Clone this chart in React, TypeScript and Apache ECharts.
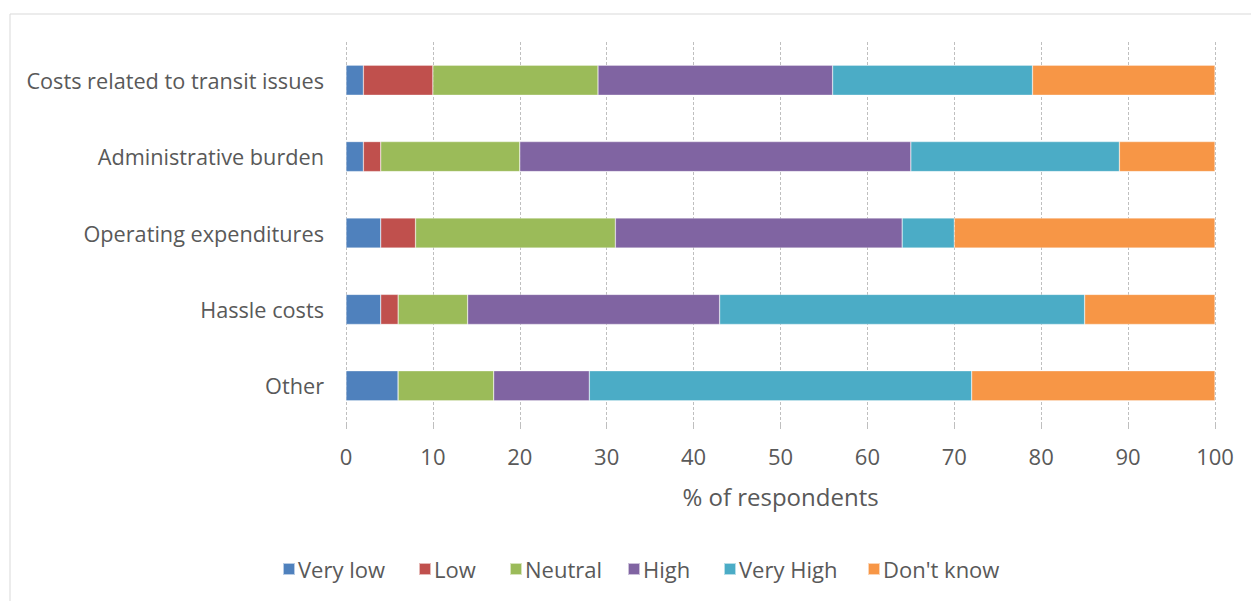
import React, { useEffect, useRef } from "react";
import * as echarts from "echarts";

const categories = [
  "Costs related to transit issues",
  "Administrative burden",
  "Operating expenditures",
  "Hassle costs",
  "Other",
];
const seriesNames = ["Very low", "Low", "Neutral", "High", "Very High", "Don't know"];
const veryLow = [2, 2, 4, 4, 6];
const low = [8, 2, 4, 2, 0];
const neutral = [19, 16, 23, 8, 11];
const high = [27, 45, 33, 29, 11];
const veryHigh = [23, 24, 6, 42, 44];
const dontKnow = [21, 11, 30, 15, 28];
const colors = ["#4F81BD", "#C0504D", "#9BBB59", "#8064A2", "#4BACC6", "#F79646"];
const xTicks = [0, 10, 20, 30, 40, 50, 60, 70, 80, 90, 100];

// layout only: left edge of each legend entry
const legendLeft = [282, 418, 509, 627, 723, 867];

const FONT = "Open Sans";
const TEXT = "#595959";

export default function App() {
  const ref = useRef<HTMLDivElement>(null);
  useEffect(() => {
    if (!ref.current) return;
    const chart = echarts.init(ref.current, null, { renderer: "svg" });
    const values = [veryLow, low, neutral, high, veryHigh, dontKnow];
    chart.setOption({
      animation: false,
      backgroundColor: "#ffffff",
      textStyle: { fontFamily: FONT },
      graphic: [
        {
          type: "rect",
          shape: { x: 10, y: 14, width: 1260, height: 620 },
          style: { fill: "none", stroke: "#d9d9d9", lineWidth: 1 },
          silent: true,
        },
      ],
      legend: seriesNames.map((name, i) => ({
        data: [name],
        left: legendLeft[i],
        top: 558,
        padding: 0,
        itemWidth: 12,
        itemHeight: 12,
        icon: "rect",
        textStyle: { color: TEXT, fontSize: 22, fontFamily: FONT, padding: [0, 0, 0, -2] },
      })),
      grid: { left: 346, right: 36, top: 42, bottom: 177, containLabel: false },
      xAxis: {
        type: "value",
        min: xTicks[0],
        max: xTicks[xTicks.length - 1],
        interval: 10,
        name: "% of respondents",
        nameLocation: "middle",
        nameGap: 60,
        nameTextStyle: { color: TEXT, fontSize: 24, fontFamily: FONT },
        axisLine: { show: false },
        axisTick: { show: true, length: 5, lineStyle: { color: "#bfbfbf" } },
        axisLabel: { color: TEXT, fontSize: 22, fontFamily: FONT, margin: 21 },
        splitLine: { show: true, lineStyle: { color: "#bfbfbf", type: [3, 2], width: 1 } },
      },
      yAxis: {
        type: "category",
        data: categories,
        inverse: true,
        axisLine: { show: false },
        axisTick: { show: false },
        axisLabel: { color: TEXT, fontSize: 21.7, fontFamily: FONT, margin: 22 },
      },
      series: seriesNames.map((name, i) => ({
        name,
        type: "bar",
        stack: "total",
        data: values[i],
        barWidth: 30,
        itemStyle: { color: colors[i], borderColor: "rgba(255,255,255,0.6)", borderWidth: 0.5 },
      })),
    });
    return () => chart.dispose();
  }, []);
  return <div ref={ref} style={{ width: 1251, height: 601, position: "absolute", left: 0, top: 0 }} />;
}
